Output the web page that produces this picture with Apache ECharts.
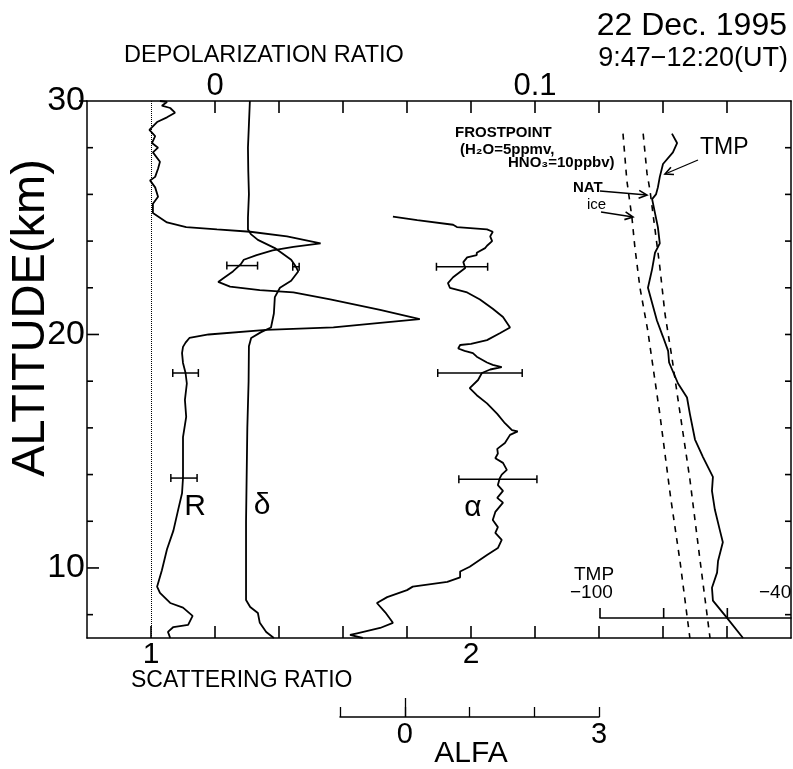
<!DOCTYPE html>
<html>
<head>
<meta charset="utf-8">
<script src="https://cdn.jsdelivr.net/npm/echarts@6/dist/echarts.min.js"></script>
<style>
html, body { margin: 0; padding: 0; background: #fff; overflow: hidden; }
#chart { width: 793px; height: 769px; }
</style>
</head>
<body>
<div id="chart"></div>
<script>
// scattering ratio R vs altitude (km)
var rAlt = [30.0, 29.96, 29.8, 29.7, 29.5, 29.3, 29.1, 28.76, 28.5, 28.2, 28.0, 27.8, 27.4, 27.1, 26.75, 26.6, 26.3, 25.9, 25.6, 25.2,
  24.8, 24.6, 24.5, 24.4, 24.2, 23.9, 23.75, 23.6, 23.4, 23.2, 23.0, 22.7, 22.4, 22.25, 22.05, 21.9, 21.8, 21.5, 21.05, 20.66,
  20.5, 20.3, 20.2, 20.0, 19.85, 19.65, 19.47, 19.2, 18.78, 18.35, 17.9, 17.2, 16.47, 15.6, 14.76, 13.85, 13.2, 12.5, 11.6, 10.8,
  9.9, 9.2, 8.93, 8.5, 8.3, 7.95, 7.56, 7.47, 7.26, 7.0];
var rVal = [1.028, 1.05, 1.034, 1.06, 1.075, 1.05, 1.019, 0.995, 1.013, 1.003, 1.022, 1.006, 1.028, 1.022, 1.013, 0.997, 1.013, 1.022, 1.006, 1.006,
  1.05, 1.11, 1.206, 1.31, 1.425, 1.53, 1.445, 1.38, 1.33, 1.29, 1.28, 1.256, 1.225, 1.21, 1.247, 1.34, 1.445, 1.56, 1.716, 1.84,
  1.716, 1.57, 1.36, 1.18, 1.12, 1.108, 1.10, 1.097, 1.10, 1.108, 1.112, 1.106, 1.11, 1.10, 1.10, 1.10, 1.097, 1.085, 1.07, 1.05,
  1.034, 1.019, 1.028, 1.06, 1.10, 1.13, 1.116, 1.07, 1.053, 1.06];

// depolarization ratio delta
var dAlt = [30.0, 29.0, 28.0, 27.0, 26.0, 25.0, 24.5, 24.3, 24.05, 23.7, 23.2, 22.9, 22.7, 22.3, 22.0, 21.6, 20.9, 20.3, 20.1, 19.85,
  19.5, 18.0, 16.0, 14.0, 12.0, 10.0, 8.63, 8.33, 8.07, 7.65, 7.26, 7.0];
var dVal = [0.0109, 0.0106, 0.0103, 0.0104, 0.0106, 0.0103, 0.0103, 0.0112, 0.0134, 0.0187, 0.0238, 0.0253, 0.026, 0.0238, 0.0203, 0.0187, 0.0184, 0.0175, 0.0144, 0.0113,
  0.0106, 0.0105, 0.0101, 0.0099, 0.0097, 0.0097, 0.0097, 0.011, 0.0134, 0.014, 0.016, 0.0184];

// ALFA
var aAlt = [25.05, 24.9, 24.7, 24.6, 24.5, 24.4, 24.2, 24.0, 23.8, 23.7, 23.5, 23.4, 23.3, 23.1, 22.85, 22.45, 22.2, 22.0, 21.8, 21.5,
  21.1, 20.75, 20.3, 20.05, 19.76, 19.6, 19.55, 19.4, 19.3, 19.2, 19.05, 18.8, 18.7, 18.6, 18.5, 18.35, 18.05, 17.7, 17.4, 17.05,
  16.6, 16.2, 15.9, 15.85, 15.7, 15.35, 15.1, 14.9, 14.7, 14.5, 14.2, 14.0, 13.85, 13.55, 13.3, 13.0, 12.8, 12.4, 12.05, 11.75,
  11.5, 11.2, 10.85, 10.55, 10.05, 9.85, 9.6, 9.4, 9.2, 9.05, 8.75, 8.5, 8.1, 7.65, 7.43, 7.2, 7.13, 7.0];
var aVal = [-0.22, 0.16, 0.72, 0.78, 1.25, 1.34, 1.30, 1.33, 1.25, 1.22, 1.09, 1.09, 0.94, 0.88, 0.91, 0.72, 0.64, 0.67, 0.94, 1.14,
  1.34, 1.50, 1.61, 1.45, 1.25, 1.0, 0.83, 0.80, 0.9, 1.03, 1.09, 1.25, 1.34, 1.48, 1.30, 1.17, 1.11, 0.98, 1.09, 1.25,
  1.41, 1.53, 1.64, 1.73, 1.61, 1.53, 1.41, 1.42, 1.38, 1.50, 1.56, 1.48, 1.45, 1.42, 1.50, 1.41, 1.50, 1.38, 1.34, 1.42,
  1.38, 1.48, 1.42, 1.25, 0.98, 0.83, 0.83, 0.63, 0.09, 0.0, -0.31, -0.47, -0.34, -0.22, -0.42, -0.78, -0.89, -0.69];

// temperature (C)
var tAlt = [28.6, 28.2, 27.8, 27.3, 26.75, 26.3, 26.0, 25.8, 25.2, 24.6, 23.9, 23.5, 22.8, 22.0, 21.35, 20.6, 19.9, 19.3, 18.8, 17.9,
  17.3, 16.6, 15.5, 14.75, 13.9, 13.3, 12.5, 11.6, 11.1, 10.3, 9.8, 9.15, 8.6, 7.86, 7.0];
var tVal = [-77.2, -75.6, -76.9, -80.0, -81.0, -81.6, -82.2, -83.4, -82.5, -81.6, -81.0, -82.5, -83.4, -84.7, -83.4, -81.9, -80.0, -78.4, -78.1, -75.3,
  -72.5, -71.6, -70.0, -67.5, -64.4, -64.7, -63.8, -62.2, -61.3, -62.8, -63.1, -64.7, -64.4, -60.0, -55.0];

// frostpoints (C)
var iceAlt = [28.6, 26.6, 25.0, 23.75, 22.0, 20.2, 16.6, 13.0, 10.3, 7.0];
var iceVal = [-92.5, -91.3, -89.7, -88.8, -87.2, -84.8, -81.0, -77.6, -74.7, -71.6];
var natAlt = [28.6, 26.9, 26.2, 24.5, 22.9, 20.9, 19.0, 17.3, 13.8, 10.3, 7.0];
var natVal = [-86.2, -85.0, -84.1, -82.5, -81.0, -79.4, -77.2, -75.4, -71.6, -68.4, -65.3];

// error bars: [center, half width, altitude]
var rErr = [[1.285, 0.048, 22.95], [1.108, 0.04, 18.35], [1.103, 0.041, 13.85]];
var dErr = [[0.0253, 0.001, 22.9]];
var aErr = [[0.86, 0.40, 22.9], [1.14, 0.66, 18.35], [1.42, 0.61, 13.8]];

// ticks
var altMinor = [8, 12, 14, 16, 18, 22, 24, 26, 28];
var altMajor = [10, 20];
var altLabels = [10, 20, 30];
var rTicks = [1.0, 1.2, 1.4, 1.6, 1.8, 2.0, 2.2, 2.4, 2.6, 2.8];
var rLabels = [1, 2];
var depolTicks = [0, 0.02, 0.04, 0.06, 0.08, 0.1, 0.12, 0.14, 0.16];
var depolLabels = [0, 0.1];
var alfaLabels = [0, 3];
var tmpTicks = [-100, -80, -60];

var FONT = 'Liberation Sans, Arial, Helvetica, sans-serif';
var chart = echarts.init(document.getElementById('chart'));

function pairs(xs, ys) {
  return ys.map(function (y, i) { return [xs[i], y]; });
}

function errRender(params, api) {
  var c = api.value(0), h = api.value(1), y = api.value(2);
  var p0 = api.coord([c - h, y]), p1 = api.coord([c + h, y]);
  var st = { stroke: '#000', lineWidth: 1.5 };
  return {
    type: 'group',
    children: [
      { type: 'line', shape: { x1: p0[0], y1: p0[1], x2: p1[0], y2: p1[1] }, style: st },
      { type: 'line', shape: { x1: p0[0], y1: p0[1] - 4, x2: p0[0], y2: p0[1] + 4 }, style: st },
      { type: 'line', shape: { x1: p1[0], y1: p1[1] - 4, x2: p1[0], y2: p1[1] + 4 }, style: st }
    ]
  };
}

function arrow(x1, y1, x2, y2) {
  var a = Math.atan2(y2 - y1, x2 - x1), L = 9, s = 0.45;
  return [
    { type: 'polyline', shape: { points: [[x1, y1], [x2, y2]] }, style: { stroke: '#000', lineWidth: 1.3, fill: null } },
    { type: 'polyline', shape: { points: [[x2 - L * Math.cos(a - s), y2 - L * Math.sin(a - s)], [x2, y2], [x2 - L * Math.cos(a + s), y2 - L * Math.sin(a + s)]] },
      style: { stroke: '#000', lineWidth: 1.6, fill: null } }
  ];
}

function txt(t, x, y, size, align, extra, weight) {
  var e = { type: 'text', x: x, y: y, style: { text: t, font: (weight ? weight + ' ' : '') + size + 'px ' + FONT, fill: '#000', textAlign: align || 'left', textVerticalAlign: 'middle' } };
  if (extra) { for (var k in extra) e[k] = extra[k]; }
  return e;
}

function xLine() { return { show: true, lineStyle: { color: '#000', width: 1.5 } }; }
function yLine() { return { show: true, onZeroAxisIndex: 0, lineStyle: { color: '#000', width: 1.5 } }; }
var noTick = { show: false };
var lineSt = { color: '#000', width: 1.8 };

var graphics = [
  txt('22 Dec. 1995', 787, 26, 32, 'right'),
  txt('9:47\u221212:20(UT)', 788, 59, 27, 'right'),
  txt('DEPOLARIZATION RATIO', 124, 56, 23.5, 'left'),
  txt('SCATTERING RATIO', 131, 681, 23, 'left'),
  txt('ALFA', 471, 754, 30, 'center'),
  txt('ALTITUDE(km)', 31, 318, 47, 'center', { rotation: Math.PI / 2 }),
  txt('R', 195, 507, 30, 'center'),
  txt('\u03b4', 262, 506, 30, 'center'),
  txt('\u03b1', 473, 508, 30, 'center'),
  txt('FROSTPOINT', 455, 133, 15, 'left', null, 'bold'),
  txt('(H\u2082O=5ppmv,', 460, 150, 15, 'left', null, 'bold'),
  txt('HNO\u2083=10ppbv)', 508, 163, 15, 'left', null, 'bold'),
  txt('NAT', 573, 188, 15, 'left', null, 'bold'),
  txt('ice', 587, 205, 15, 'left'),
  txt('TMP', 700, 148, 23, 'left'),
  txt('TMP', 574, 575, 19, 'left'),
  txt('\u2212100', 570, 593, 19, 'left'),
  txt('\u221240', 759, 593, 19, 'left')
].concat(arrow(600, 191, 647, 195), arrow(601, 212, 633, 217), arrow(698, 160, 665, 174));

var option = {
  animation: false,
  backgroundColor: '#fff',
  textStyle: { fontFamily: FONT, color: '#000' },
  grid: [
    { left: 87, right: 2, top: 101, bottom: 131 },
    { left: 340, right: 194, top: 690, bottom: 52 },
    { left: 600, right: 2, top: 590, bottom: 151 }
  ],
  xAxis: [
    { // scattering ratio
      type: 'value', gridIndex: 0, position: 'bottom', min: 0.8, max: 3.0, interval: 0.2,
      axisLine: xLine(), splitLine: { show: false }, axisTick: noTick,
      axisLabel: { customValues: rLabels, fontSize: 30, color: '#000', margin: 2, fontFamily: FONT, formatter: function (v) { return String(Math.round(v)); } }
    },
    { // depolarization ratio
      type: 'value', gridIndex: 0, position: 'top', min: -0.04, max: 0.18,
      axisLine: xLine(), splitLine: { show: false }, axisTick: noTick,
      axisLabel: { customValues: depolLabels, fontSize: 31, color: '#000', margin: -1, fontFamily: FONT, formatter: function (v) { return v === 0 ? '0' : '0.1'; } }
    },
    { type: 'value', gridIndex: 0, position: 'bottom', min: -5, max: 6, show: false },
    { type: 'value', gridIndex: 0, position: 'bottom', min: -260, max: -40, show: false },
    { // ALFA scale
      type: 'value', gridIndex: 1, position: 'bottom', min: -1, max: 3, interval: 1,
      axisLine: xLine(), splitLine: { show: false },
      axisTick: { show: true, inside: true, length: 10, lineStyle: { color: '#000', width: 1.3 } },
      axisLabel: { customValues: alfaLabels, fontSize: 29, color: '#000', margin: 3, fontFamily: FONT }
    },
    { // longer tick at ALFA 0
      type: 'value', gridIndex: 1, position: 'bottom', min: -1, max: 3,
      axisLine: { show: false }, splitLine: { show: false },
      axisTick: { show: true, inside: true, length: 19, customValues: [0], lineStyle: { color: '#000', width: 1.3 } },
      axisLabel: { show: false }
    },
    { // TMP scale
      type: 'value', gridIndex: 2, position: 'bottom', min: -100, max: -40, interval: 20,
      axisLine: xLine(), splitLine: { show: false }, axisTick: noTick,
      axisLabel: { show: false }
    }
  ],
  yAxis: [
    {
      type: 'value', gridIndex: 0, position: 'left', min: 7, max: 30,
      axisLine: yLine(), splitLine: { show: false }, axisTick: noTick,
      axisLabel: { customValues: altLabels, fontSize: 34, color: '#000', margin: 2, fontFamily: FONT }
    },
    {
      type: 'value', gridIndex: 0, position: 'right', min: 7, max: 30,
      axisLine: yLine(), splitLine: { show: false }, axisTick: noTick,
      axisLabel: { show: false }
    },
    { type: 'value', gridIndex: 1, show: false },
    { type: 'value', gridIndex: 2, min: 0, max: 1, show: false }
  ],
  series: [
    {
      name: 'R', type: 'line', xAxisIndex: 0, yAxisIndex: 0, data: pairs(rVal, rAlt),
      showSymbol: false, lineStyle: lineSt,
      markLine: {
        silent: true, symbol: 'none', label: { show: false },
        lineStyle: { type: 'dotted', color: '#000', width: 1 },
        data: [{ xAxis: 1 }]
      }
    },
    { name: 'delta', type: 'line', xAxisIndex: 1, yAxisIndex: 0, data: pairs(dVal, dAlt), showSymbol: false, lineStyle: lineSt },
    { name: 'alfa', type: 'line', xAxisIndex: 2, yAxisIndex: 0, data: pairs(aVal, aAlt), showSymbol: false, lineStyle: lineSt },
    { name: 'TMP', type: 'line', xAxisIndex: 3, yAxisIndex: 0, data: pairs(tVal, tAlt), showSymbol: false, lineStyle: lineSt },
    { name: 'ice', type: 'line', xAxisIndex: 3, yAxisIndex: 0, data: pairs(iceVal, iceAlt), showSymbol: false,
      lineStyle: { color: '#000', width: 1.6, type: [6, 6] } },
    { name: 'NAT', type: 'line', xAxisIndex: 3, yAxisIndex: 0, data: pairs(natVal, natAlt), showSymbol: false,
      lineStyle: { color: '#000', width: 1.6, type: [6, 6] } },
    { type: 'custom', xAxisIndex: 0, yAxisIndex: 0, data: rErr, renderItem: errRender, encode: { x: 0, y: 2 } },
    { type: 'custom', xAxisIndex: 1, yAxisIndex: 0, data: dErr, renderItem: errRender, encode: { x: 0, y: 2 } },
    { type: 'custom', xAxisIndex: 2, yAxisIndex: 0, data: aErr, renderItem: errRender, encode: { x: 0, y: 2 } }
  ],
  graphic: { elements: graphics }
};

chart.setOption(option);

// tick marks, placed through the axes' own scales once the chart is laid out
var tickEls = [];
function addTicks(finder, vals, fixed, alongX, dx, dy) {
  vals.forEach(function (v) {
    var p = chart.convertToPixel(finder, alongX ? [v, fixed] : [fixed, v]);
    tickEls.push({ type: 'line', z: 100, silent: true, shape: { x1: p[0], y1: p[1], x2: p[0] + dx, y2: p[1] + dy },
      style: { stroke: '#000', lineWidth: 1.6 } });
  });
}
var main = { xAxisIndex: 0, yAxisIndex: 0 };
addTicks(main, rTicks, 7, true, 0, -12);
addTicks({ xAxisIndex: 1, yAxisIndex: 0 }, depolTicks, 30, true, 0, 12);
addTicks(main, altMinor, 0.8, false, 6, 0);
addTicks(main, altMajor, 0.8, false, 12, 0);
addTicks(main, [30], 0.8, false, -8, 0);
addTicks(main, altMinor.concat(altMajor), 3.0, false, -6, 0);
addTicks({ xAxisIndex: 6, yAxisIndex: 3 }, tmpTicks, 0, true, 0, -10);

chart.setOption({ graphic: { elements: graphics.concat(tickEls) } });
</script>
</body>
</html>
